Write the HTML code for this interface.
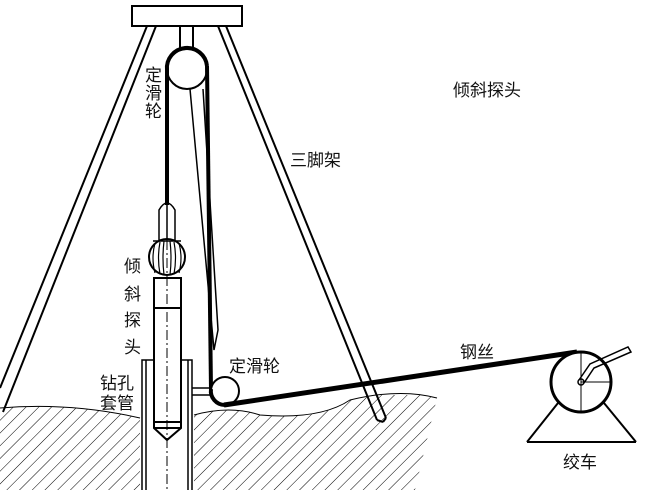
<!DOCTYPE html>
<html><head><meta charset="utf-8"><style>
html,body{margin:0;padding:0;background:#fff;}
svg{display:block}
text{font-family:"Liberation Sans","Noto Sans CJK SC",sans-serif;fill:#111;}
</style></head><body>
<svg width="648" height="493" viewBox="0 0 648 493" xmlns="http://www.w3.org/2000/svg">
<defs>
<pattern id="h" width="9" height="9" patternUnits="userSpaceOnUse" patternTransform="rotate(45)">
<line x1="0" y1="0" x2="0" y2="9" stroke="#000" stroke-width="1"/>
</pattern>
<clipPath id="g"><path d="M0,408 Q70,402 140,418 L140,490 L0,490 Z M194,415 Q230,405 260,415 Q320,420 350,400 Q400,388 437,398 L415,490 L194,490 Z"/></clipPath>
</defs>
<rect x="0" y="395" width="440" height="98" fill="url(#h)" clip-path="url(#g)"/>
<path d="M0,408 Q70,402 140,418" fill="none" stroke="#000" stroke-width="1"/>
<path d="M194,415 Q230,405 260,415 Q320,420 350,400 Q400,388 437,398" fill="none" stroke="#000" stroke-width="1"/>
<g stroke="#000" fill="none" stroke-width="2">
<!-- plate -->
<rect x="132" y="6" width="110" height="20" fill="#fff"/>
<rect x="180" y="26" width="13" height="22"/>
<!-- tripod -->
<line x1="147" y1="26" x2="0" y2="388"/>
<line x1="156" y1="26" x2="3" y2="412"/>
<line x1="218" y1="26" x2="377" y2="420"/>
<line x1="226" y1="26" x2="386" y2="418"/>
<line x1="377" y1="420" x2="383" y2="422"/><line x1="386" y1="418" x2="383" y2="422"/>
<!-- top pulley -->
<circle cx="187" cy="69" r="20" fill="#fff"/>
<path d="M167,70 A20,20 0 0 1 207,66" stroke-width="4"/>
<line x1="167" y1="68" x2="167" y2="205" stroke-width="4"/>
<line x1="207" y1="66" x2="211" y2="390" stroke-width="4"/>
<path d="M190,89 L214,350 L218,330 L203,89" stroke-width="1.5"/>
<!-- probe -->
<path d="M159,240 L159,210 Q167,196 175,210 L175,240" stroke-width="1.5"/>
<line x1="167" y1="205" x2="167" y2="240" stroke-width="1.5"/>
<ellipse cx="167" cy="257" rx="18" ry="18" stroke-width="2"/>
<path d="M155,243 Q151,258 155,273 M160,242 Q157,258 160,274 M164,241 Q162,258 164,275 M170,241 Q172,258 170,275 M174,242 Q177,258 174,274 M179,243 Q183,258 179,273" stroke-width="1.2"/>
<line x1="153" y1="241" x2="181" y2="241" stroke-width="1.5"/>
<rect x="154" y="278" width="27" height="144" fill="#fff"/>
<line x1="154" y1="308" x2="181" y2="308" stroke-width="2"/>
<path d="M154,422 L154,428 L167,440 L181,428 L181,422 M154,428 L181,428"/>
<line x1="167" y1="240" x2="167" y2="490" stroke-width="1" stroke-dasharray="10,3,2,3"/>
<!-- casing -->
<path d="M142,490 L142,360 L154,360 M146,490 L146,360 M192,490 L192,360 L181,360 M188,490 L188,360" stroke-width="1.5"/>
<line x1="192" y1="388" x2="212" y2="388" stroke-width="1.5"/>
<line x1="192" y1="395" x2="212" y2="395" stroke-width="1.5"/>
<!-- lower pulley -->
<circle cx="225" cy="391" r="14" fill="#fff"/>
<path d="M211,389 A14,14 0 0 0 225,405" stroke-width="4"/>
<line x1="224" y1="405" x2="577" y2="352" stroke-width="5"/>
<!-- winch -->
<line x1="558" y1="403" x2="527" y2="442"/>
<line x1="604" y1="403" x2="636" y2="442"/>
<line x1="527" y1="442" x2="636" y2="442"/>
<circle cx="581" cy="382" r="30" fill="#fff" stroke-width="3"/>
<line x1="581" y1="352" x2="581" y2="412" stroke-width="1"/>
<line x1="581" y1="382" x2="611" y2="382" stroke-width="1"/>
<path d="M579,380 L590,364 L628,347 L631,352 L594,368 L584,383" stroke-width="1.5"/>
<circle cx="581" cy="382" r="3" stroke-width="1.5"/>
</g>
<g font-size="17">
<text x="145" y="81">定</text><text x="145" y="99">滑</text><text x="145" y="117">轮</text>
<text x="453" y="96">倾斜探头</text>
<text x="290" y="166">三脚架</text>
<text x="124" y="272">倾</text><text x="124" y="300">斜</text><text x="124" y="326">探</text><text x="124" y="353">头</text>
<text x="100" y="389">钻孔</text><text x="100" y="409">套管</text>
<text x="229" y="372">定滑轮</text>
<text x="460" y="358">钢丝</text>
<text x="563" y="468">绞车</text>
</g>
</svg>
</body></html>
